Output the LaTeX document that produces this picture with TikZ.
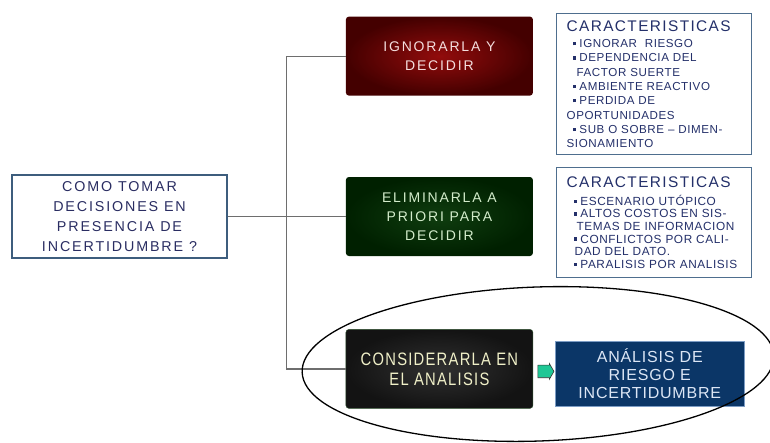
\documentclass[tikz,border=0pt]{standalone}
\usepackage{fontspec}
\setmainfont{Liberation Sans}[LetterSpace=5]
\newfontfamily\wideface{Liberation Sans}[LetterSpace=13]
\newfontfamily\titleface{Liberation Sans}[LetterSpace=9]
\newfontfamily\tallface{Liberation Sans}[LetterSpace=7, FakeStretch=0.82]
\usepackage{xcolor}
\usetikzlibrary{positioning, calc, shapes.arrows}

\definecolor{qborder}{HTML}{3D5D7D}
\definecolor{qtext}{HTML}{2A2D62}
\definecolor{cborder}{HTML}{4E6E8E}
\definecolor{ctext}{HTML}{24306A}
\definecolor{redin}{HTML}{920C0C}
\definecolor{redout}{HTML}{440000}
\definecolor{redtext}{HTML}{F4DEDE}
\definecolor{greenin}{HTML}{0F3D0F}
\definecolor{greenout}{HTML}{002000}
\definecolor{greentext}{HTML}{D3ECCB}
\definecolor{blackin}{HTML}{303030}
\definecolor{blackout}{HTML}{131313}
\definecolor{blackedge}{HTML}{2D4F2D}
\definecolor{blacktext}{HTML}{F0F0C8}
\definecolor{blueband}{HTML}{0B3667}
\definecolor{blueedge}{HTML}{7C9CC4}
\definecolor{bluetext}{HTML}{DCE6F5}
\definecolor{flechaverde}{HTML}{1FC795}
\definecolor{linea}{HTML}{6E6E6E}

\newcommand{\bul}{\rule[2.3pt]{3.3pt}{3.3pt}\hspace{3.5pt}}
\newcommand{\cartitle}{{\titleface\fontsize{15.4}{16}\selectfont CARACTERISTICAS}}

\begin{document}
\begin{tikzpicture}[
        x=1pt, y=-1pt,
        qbox/.style={
            rectangle,
            draw=qborder,
            line width=1.4pt,
            fill=white,
            minimum width=215pt,
            minimum height=83pt,
            align=center,
            text=qtext,
            font=\wideface\fontsize{14.3}{20}\selectfont
        },
        optbox/.style={
            rectangle,
            rounded corners=3pt,
            minimum width=187pt,
            minimum height=79pt,
            align=center,
            font=\wideface\fontsize{14}{19}\selectfont
        },
        bluebox/.style={
            rectangle,
            draw=blueedge,
            fill=blueband,
            minimum width=189pt,
            minimum height=65pt,
            align=center,
            text=bluetext,
            font=\fontsize{16}{18}\selectfont
        },
        charbox/.style={
            rectangle,
            draw=cborder,
            line width=1.3pt,
            fill=white,
            text width=195pt,
            inner xsep=0pt,
            align=left,
            text=ctext,
            font=\fontsize{11.6}{14.3}\selectfont
        },
        flecha/.style={
            single arrow,
            draw=black!80,
            line width=0.6pt,
            fill=flechaverde,
            minimum height=16pt,
            single arrow head extend=1.5pt,
            single arrow tip angle=120,
            inner sep=0pt
        },
        conn/.style={draw=linea, line width=1.2pt},
        ovalo/.style={draw=black, line width=1.3pt}
    ]

    \useasboundingbox (0,0) rectangle (770,442);

    % Nodes
    \node[qbox] (pregunta) at (119.5,216.5) {COMO TOMAR\\DECISIONES EN\\PRESENCIA DE\\INCERTIDUMBRE ?};
    \node[optbox, inner color=greenin, outer color=greenout, text=greentext, right=118pt of pregunta] (eliminar) {ELIMINARLA A\\PRIORI PARA\\DECIDIR};
    \node[optbox, inner color=redin, outer color=redout, text=redtext, above=81pt of eliminar] (ignorar) {IGNORARLA Y\\DECIDIR};
    \node[optbox, inner color=blackin, outer color=blackout, draw=blackedge, text=blacktext, font=\tallface\fontsize{18}{20}\selectfont, below=73pt of eliminar] (considerar) {CONSIDERARLA EN\\EL ANALISIS};
    \node[bluebox, right=22pt of considerar, yshift=-5pt] (analisis) {ANÁLISIS DE\\RIESGO E\\INCERTIDUMBRE};
    \node[flecha] (flecha) at ($(considerar.east)!0.5!(analisis.west)$) {\rule{9pt}{0pt}\rule{0pt}{12pt}};

    \node[charbox, minimum height=141pt, anchor=north west] (carac1) at (556,13) {\leftskip=10pt
        \cartitle\\[2pt]
        \hspace*{6pt}\bul IGNORAR\ \ RIESGO\\
        \hspace*{6pt}\bul DEPENDENCIA DEL\\
        \hspace*{10pt}FACTOR SUERTE\\
        \hspace*{6pt}\bul AMBIENTE REACTIVO\\
        \hspace*{6pt}\bul PERDIDA DE\\
        OPORTUNIDADES\\
        \hspace*{6pt}\bul SUB O SOBRE – DIMEN-\\
        \hspace*{10pt}SIONAMIENTO};
    \node[charbox, minimum height=110pt, anchor=north west, font=\fontsize{11.8}{12.6}\selectfont] (carac2) at (556,167) {\leftskip=10pt
        \cartitle\\[5pt]
        \hspace*{7pt}\bul ESCENARIO UTÓPICO\\
        \hspace*{7pt}\bul ALTOS COSTOS EN SIS-\\
        \hspace*{10pt}TEMAS DE INFORMACION\\
        \hspace*{7pt}\bul CONFLICTOS POR CALI-\\
        \hspace*{8pt}DAD DEL DATO.\\
        \hspace*{7pt}\bul PARALISIS POR ANALISIS\\[4pt]};

    % Connectors
    \coordinate (bus) at ($(pregunta.east)!0.5!(eliminar.west)$);
    \draw[conn] (pregunta.east) -- (eliminar.west);
    \draw[conn] (ignorar.west) -| (bus) |- (considerar.west);

    % Grouping oval
    \draw[ovalo, rotate around={2:(538,364)}] (538,364) ellipse [x radius=236pt, y radius=77pt];

\end{tikzpicture}
\end{document}
